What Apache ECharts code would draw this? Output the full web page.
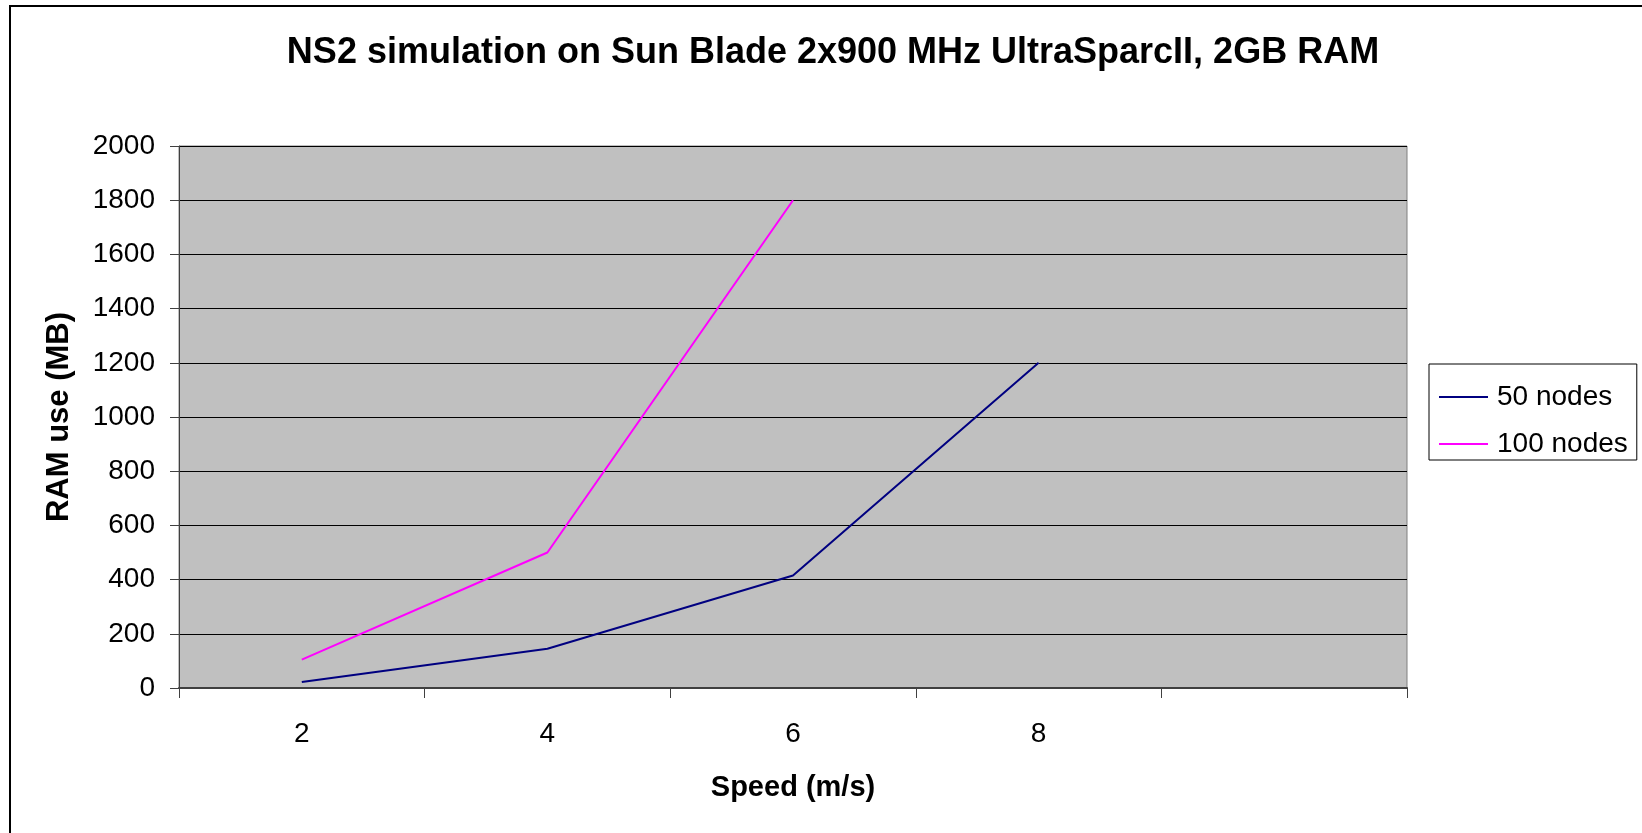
<!DOCTYPE html>
<html>
<head>
<meta charset="utf-8">
<script src="https://cdn.jsdelivr.net/npm/echarts@6/dist/echarts.min.js"></script>
<style>
html, body { margin: 0; padding: 0; background: #fff; }
#main { width: 1642px; height: 833px; }
</style>
</head>
<body>
<div id="main"></div>
<script>
// speeds (m/s) - last slot is empty like the original sheet
var speeds = ['2', '4', '6', '8', ''];
var nodes50 = [22, 145, 415, 1200, null];
var nodes100 = [105, 500, 1800, null, null];

var font = 'Liberation Sans, Arial, sans-serif';

var myChart = echarts.init(document.getElementById('main'));

var option = {
	animation: false,
	backgroundColor: '#ffffff',
	title: {
		text: 'NS2 simulation on Sun Blade 2x900 MHz UltraSparcII, 2GB RAM',
		left: 828,
		top: 30,
		textAlign: 'center',
		textStyle: {
			fontFamily: font,
			fontSize: 36,
			fontWeight: 'bold',
			color: '#000'
		}
	},
	graphic: [{
		type: 'rect',
		shape: { x: 10, y: 6, width: 1700, height: 900 },
		style: { fill: 'none', stroke: '#000', lineWidth: 2 },
		silent: true
	}],
	legend: {
		orient: 'vertical',
		left: 1429,
		top: 364,
		padding: [19, 9, 2, 10],
		icon: 'rect',
		itemWidth: 49,
		itemHeight: 2,
		itemGap: 19,
		borderColor: '#000',
		borderWidth: 1,
		backgroundColor: '#fff',
		textStyle: {
			fontFamily: font,
			fontSize: 28,
			color: '#000',
			padding: [0, 0, 0, 4]
		},
		data: ['50 nodes', '100 nodes']
	},
	grid: {
		left: 179,
		right: 235,
		top: 146,
		bottom: 145,
		show: true,
		backgroundColor: '#c0c0c0',
		borderColor: '#808080',
		borderWidth: 1
	},
	xAxis: {
		type: 'category',
		data: speeds,
		boundaryGap: true,
		name: 'Speed (m/s)',
		nameLocation: 'middle',
		nameGap: 85,
		nameTextStyle: {
			fontFamily: font,
			fontSize: 29,
			fontWeight: 'bold',
			color: '#000'
		},
		axisLine: { lineStyle: { color: '#404040', width: 2 } },
		axisTick: { show: true, length: 10, inside: false, lineStyle: { color: '#404040' } },
		axisLabel: {
			fontFamily: font,
			fontSize: 28,
			color: '#000',
			margin: 32
		},
		splitLine: { show: false }
	},
	yAxis: {
		type: 'value',
		min: 0,
		max: 2000,
		interval: 200,
		name: 'RAM use (MB)',
		nameLocation: 'middle',
		nameGap: 104,
		nameTextStyle: {
			fontFamily: font,
			fontSize: 31,
			fontWeight: 'bold',
			color: '#000'
		},
		axisLine: { show: true, lineStyle: { color: '#404040', width: 1 } },
		axisTick: { show: true, length: 9, inside: false, lineStyle: { color: '#404040' } },
		axisLabel: {
			fontFamily: font,
			fontSize: 28,
			color: '#000',
			margin: 24,
			formatter: function (v) { return String(v); }
		},
		splitLine: { show: true, lineStyle: { color: '#000', width: 1 } }
	},
	series: [
		{
			name: '50 nodes',
			type: 'line',
			symbol: 'none',
			data: nodes50,
			lineStyle: { color: '#000080', width: 2 },
			itemStyle: { color: '#000080' }
		},
		{
			name: '100 nodes',
			type: 'line',
			symbol: 'none',
			data: nodes100,
			lineStyle: { color: '#ff00ff', width: 2 },
			itemStyle: { color: '#ff00ff' }
		}
	]
};

myChart.setOption(option);
</script>
</body>
</html>
